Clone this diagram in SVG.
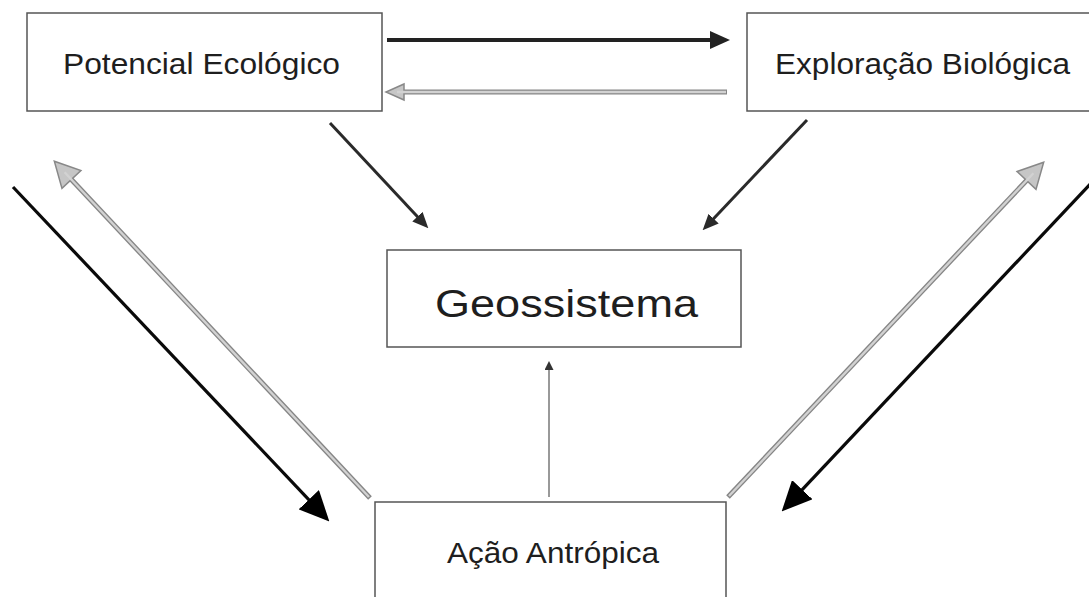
<svg xmlns="http://www.w3.org/2000/svg" width="1089" height="597" viewBox="0 0 1089 597">
<style>
.box{fill:#fff;stroke:#555;stroke-width:1.5}
.lbl{font-family:"Liberation Sans",Arial,sans-serif;fill:#1e1e1e}
.dark{stroke:#222;stroke-width:4;fill:none}
.diag{stroke:#2a2a2a;stroke-width:3;fill:none}
.black{stroke:#0a0a0a;stroke-width:3.2;fill:none}
.gout{stroke:#858585;stroke-width:5;fill:none}
.gin{stroke:#d2d2d2;stroke-width:2.4;fill:none}
.thin{stroke:#777;stroke-width:1.5;fill:none}
</style>
<defs>
<marker id="mDark" markerUnits="userSpaceOnUse" markerWidth="20" markerHeight="18" refX="8" refY="9" orient="auto"><path d="M0,0 L20,9 L0,18 z" fill="#222"/></marker>
<marker id="mDiag" markerUnits="userSpaceOnUse" markerWidth="16" markerHeight="14" refX="6" refY="7" orient="auto"><path d="M0,0 L16,7 L0,14 z" fill="#2a2a2a"/></marker>
<marker id="mBlack" markerUnits="userSpaceOnUse" markerWidth="30" markerHeight="28" refX="12" refY="14" orient="auto"><path d="M0,0 L30,14 L0,28 z" fill="#000"/></marker>
<marker id="mGray" markerUnits="userSpaceOnUse" markerWidth="28" markerHeight="28" refX="11" refY="14" orient="auto" overflow="visible"><path d="M1,1 L26,14 L1,27 z" fill="#c6c6c6" stroke="#888" stroke-width="1.5"/></marker>
<marker id="mGraySm" markerUnits="userSpaceOnUse" markerWidth="20" markerHeight="18" refX="8" refY="9" orient="auto" overflow="visible"><path d="M1,1 L19,9 L1,17 z" fill="#c6c6c6" stroke="#888" stroke-width="1.5"/></marker>
<marker id="mThin" markerUnits="userSpaceOnUse" markerWidth="9" markerHeight="9" refX="3" refY="4.5" orient="auto"><path d="M0,0 L9,4.5 L0,9 z" fill="#333"/></marker>
</defs>

<g id="connectors">
<line class="dark" x1="387" y1="40" x2="718" y2="40" marker-end="url(#mDark)"/>
<line class="gout" x1="727" y1="92" x2="397" y2="92" marker-end="url(#mGraySm)"/>
<line class="gin" x1="726" y1="92" x2="397" y2="92"/>
<line class="diag" x1="330" y1="123" x2="421.5" y2="221" marker-end="url(#mDiag)"/>
<line class="diag" x1="807" y1="120" x2="709.5" y2="223" marker-end="url(#mDiag)"/>
<line class="black" x1="13" y1="187" x2="317" y2="508.4" marker-end="url(#mBlack)"/>
<line class="gout" x1="370" y1="498" x2="64.6" y2="172.2" marker-end="url(#mGray)"/>
<line class="gin" x1="369" y1="497" x2="64.6" y2="172.2"/>
<line class="gout" x1="728" y1="497" x2="1033.4" y2="173.2" marker-end="url(#mGray)"/>
<line class="gin" x1="729" y1="496" x2="1033.4" y2="173.2"/>
<line class="black" x1="1095" y1="179" x2="794" y2="498.4" marker-end="url(#mBlack)"/>
<line class="thin" x1="549" y1="497" x2="549" y2="367" marker-end="url(#mThin)"/>
</g>

<g id="potencial">
<rect class="box" x="27" y="13" width="355" height="98"/>
<text class="lbl" x="63" y="74" font-size="30" textLength="277" lengthAdjust="spacingAndGlyphs">Potencial Ecológico</text>
</g>
<g id="exploracao">
<rect class="box" x="747" y="13" width="344" height="98"/>
<text class="lbl" x="775" y="74" font-size="30" textLength="295" lengthAdjust="spacingAndGlyphs">Exploração Biológica</text>
</g>
<g id="geossistema">
<rect class="box" x="387" y="250" width="354" height="97"/>
<text class="lbl" x="435" y="317" font-size="39" textLength="263" lengthAdjust="spacingAndGlyphs">Geossistema</text>
</g>
<g id="acao">
<rect class="box" x="375" y="502" width="351" height="100"/>
<text class="lbl" x="447" y="563" font-size="30" textLength="212" lengthAdjust="spacingAndGlyphs">Ação Antrópica</text>
</g>
</svg>
